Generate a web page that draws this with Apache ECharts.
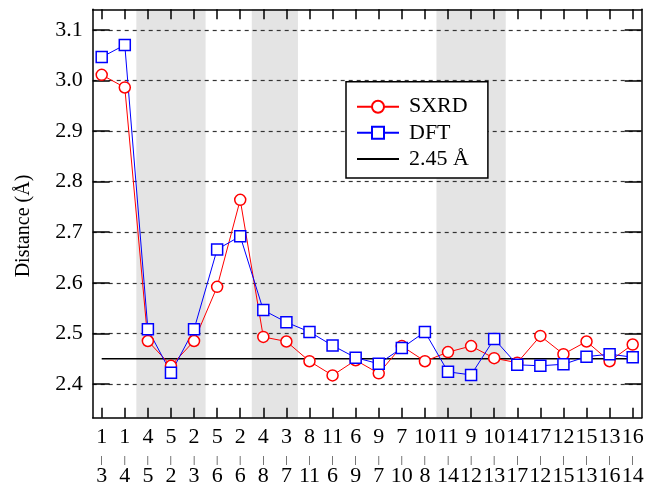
<!DOCTYPE html>
<html>
<head>
<meta charset="utf-8">
<script src="https://cdn.jsdelivr.net/npm/echarts@6/dist/echarts.min.js"></script>
<style>
html,body{margin:0;padding:0;background:#fff;}
#chart{width:648px;height:490px;}
</style>
</head>
<body>
<div id="chart"></div>
<script>
// Pair labels (top / bottom number of each category)
var labelTop    = [1,1,4,5,2,5,2,4,3,8,11,6,9,7,10,11,9,10,14,17,12,15,13,16];
var labelBottom = [3,4,5,2,3,6,6,8,7,11,6,9,7,10,8,14,12,13,17,12,15,13,16,14];
// Distances (Å)
var sxrd = [3.011,2.986,2.485,2.436,2.485,2.592,2.764,2.493,2.484,2.445,2.417,2.447,2.421,2.475,2.445,2.463,2.475,2.451,2.442,2.495,2.459,2.484,2.445,2.478];
var dft  = [3.046,3.070,2.508,2.422,2.508,2.666,2.692,2.546,2.522,2.503,2.476,2.452,2.440,2.471,2.503,2.424,2.418,2.489,2.438,2.436,2.439,2.454,2.459,2.453];
var refValue = 2.45;
// Shaded category groups (first, last category index, 1-based)
var shadedGroups = [[3,5],[8,9],[16,18]];
var yTicks = [2.4,2.5,2.6,2.7,2.8,2.9,3.0,3.1];

var catIdx = labelTop.map(function(_, i){ return i + 1; });
function pts(arr){ return arr.map(function(v, i){ return [i + 1, v]; }); }

var FONT = 'Liberation Serif';
var chart = echarts.init(document.getElementById('chart'), null, {renderer: 'canvas'});

var xCommon = {
  type: 'value', min: 0.61, max: 24.39, z: 1.5,
  axisLine: {show: true, lineStyle: {color: '#000', width: 1.5}},
  axisTick: {show: true, inside: true, length: 10, customValues: catIdx, lineStyle: {color: '#000', width: 1.5}},
  splitLine: {show: false}
};
var yCommon = {
  type: 'value', min: 2.3334, max: 3.1405, z: 1.5,
  axisLine: {show: true, lineStyle: {color: '#000', width: 1.5}},
  axisTick: {show: true, inside: true, length: 17, customValues: yTicks, lineStyle: {color: '#000', width: 1.5}}
};

var option = {
  animation: false,
  backgroundColor: '#fff',
  textStyle: {fontFamily: FONT},
  grid: {left: 92.7, top: 9.3, right: 6.3, bottom: 72.3, containLabel: false},
  xAxis: [
    Object.assign({}, xCommon, {
      position: 'bottom',
      axisLabel: {
        show: true, customValues: catIdx, margin: 9,
        formatter: function(v){
          var i = Math.round(v) - 1;
          return '{a|' + labelTop[i] + '}\n{b||}\n{a|' + labelBottom[i] + '}';
        },
        rich: {
          a: {fontFamily: FONT, fontSize: 22, lineHeight: 21, color: '#000', align: 'center'},
          b: {fontFamily: FONT, fontSize: 11, lineHeight: 18, padding: [6,0,0,0], color: '#000', align: 'center'}
        }
      }
    }),
    Object.assign({}, xCommon, {position: 'top', axisLabel: {show: false}})
  ],
  yAxis: [
    Object.assign({}, yCommon, {
      position: 'left',
      axisLabel: {show: true, customValues: yTicks, margin: 10, fontFamily: FONT, fontSize: 22, color: '#000',
        formatter: function(v){ return '{a|' + v.toFixed(1) + '}'; },
        rich: {a: {fontFamily: FONT, fontSize: 22, color: '#000'}}},
      splitLine: {show: true, lineStyle: {color: '#333', type: [4,4], width: 1.2}}
    }),
    Object.assign({}, yCommon, {
      position: 'right',
      axisLabel: {show: false},
      splitLine: {show: false}
    })
  ],
  legend: {
    left: 346, top: 81.7, orient: 'vertical',
    data: ['SXRD', 'DFT', {name: '2.45 Å', itemStyle: {color: 'rgba(0,0,0,0)', borderColor: 'rgba(0,0,0,0)', borderWidth: 0, opacity: 0}}],
    itemWidth: 42, itemHeight: 15, itemGap: 4.1,
    padding: [14, 19, 8, 10],
    borderColor: '#000', borderWidth: 1.5, backgroundColor: '#fff',
    textStyle: {fontFamily: FONT, fontSize: 22, color: '#000', padding: [0,0,0,5]}
  },
  graphic: [{
    type: 'text', x: 24, y: 226, rotation: Math.PI / 2,
    style: {text: 'Distance (Å)', font: '20px "Liberation Serif"', fill: '#000', align: 'center', verticalAlign: 'middle'}
  }],
  series: [
    {
      name: '2.45 Å', type: 'line', data: [[1, refValue], [24, refValue]],
      xAxisIndex: 0, yAxisIndex: 0, symbol: 'none', z: 2,
      color: '#000', lineStyle: {color: '#000', width: 1.5},
      markArea: {
        silent: true,
        itemStyle: {color: '#e4e4e4'},
        data: shadedGroups.map(function(g){ return [{xAxis: g[0] - 0.5}, {xAxis: g[1] + 0.5}]; })
      }
    },
    {
      name: 'SXRD', type: 'line', data: pts(sxrd), xAxisIndex: 0, yAxisIndex: 0, z: 3,
      color: '#ff0000', symbol: 'circle', symbolSize: 11, showAllSymbol: true,
      lineStyle: {color: '#ff0000', width: 1},
      itemStyle: {color: '#fff', borderColor: '#ff0000', borderWidth: 1.5}
    },
    {
      name: 'DFT', type: 'line', data: pts(dft), xAxisIndex: 0, yAxisIndex: 0, z: 3,
      color: '#0000ff', symbol: 'rect', symbolSize: 11, showAllSymbol: true,
      lineStyle: {color: '#0000ff', width: 1},
      itemStyle: {color: '#fff', borderColor: '#0000ff', borderWidth: 1.5}
    }
  ]
};
chart.setOption(option);
</script>
</body>
</html>
